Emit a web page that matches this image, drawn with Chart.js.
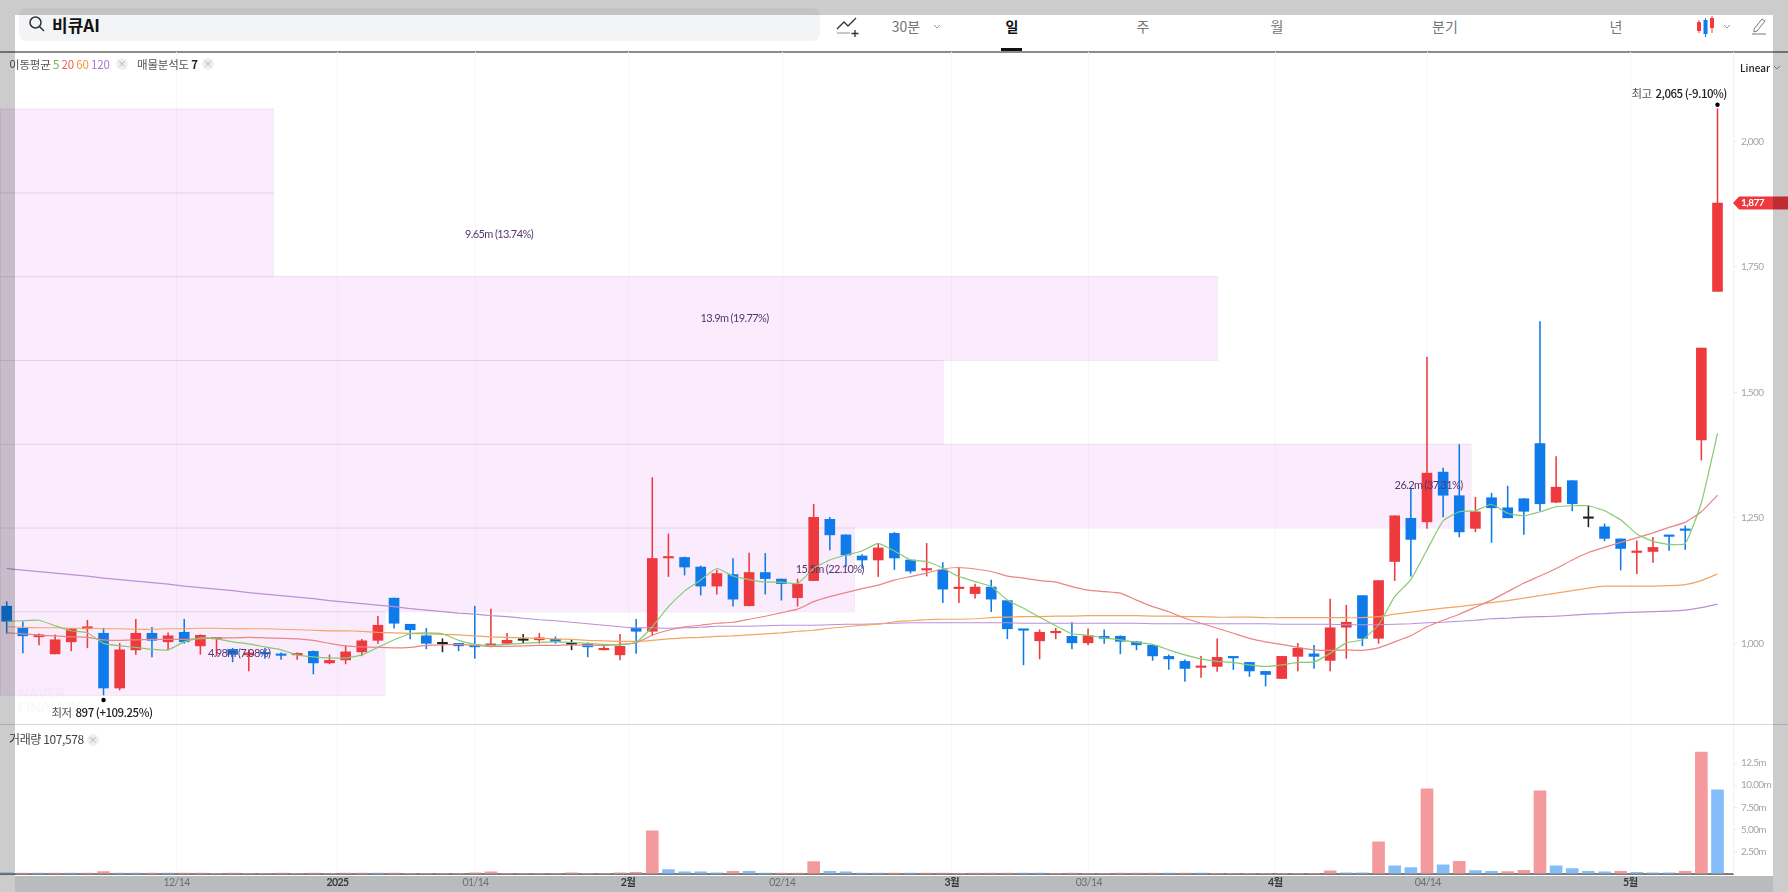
<!DOCTYPE html>
<html>
<head>
  <meta charset="utf-8">
  <script src="https://cdn.jsdelivr.net/npm/chart.js@4/dist/chart.umd.min.js"></script>
  <style>
    * { margin: 0; padding: 0; box-sizing: border-box; }
    html, body { width: 1788px; height: 892px; overflow: hidden; background: #fff; }
    body { position: relative; font-family: 'Noto Sans CJK KR', 'Noto Sans', sans-serif; color: #333; }
    canvas { position: absolute; left: 0; }
    #priceChart { top: 52px; }
    #volumeChart { top: 725px; }
    .abs { position: absolute; white-space: nowrap; }
    .tab { top: 16px; font-size: 14px; line-height: 20px; color: #777; transform: translateX(-50%); }
    .searchbox { left: 19px; top: 8px; width: 801px; height: 33px; background: #f2f4f6; border-radius: 8px; }
    .legend { font-size: 11.5px; line-height: 16px; letter-spacing: -0.2px; color: #555; }
    .closex { width: 12px; height: 12px; border-radius: 50%; background: #efefef; color: #aaa; font-size: 9px; line-height: 12px; text-align: center; }
    .dim { position: absolute; background: rgba(0, 0, 0, 0.2); z-index: 10; }
    .watermark { left: 18px; font-size: 14px; line-height: 14px; font-weight: 700; color: #f9f9f9; font-family: Lato, sans-serif; }
  </style>
</head>
<body>
  <div class="abs searchbox"></div>
  <svg class="abs" style="left:28px;top:15px" width="18" height="18" viewBox="0 0 18 18" fill="none" stroke="#333" stroke-width="1.5"><circle cx="7.5" cy="7.5" r="5.5"/><path d="M11.5 11.5L16 16"/></svg>
  <div class="abs" style="left:52px;top:12px;font-size:17px;line-height:26px;font-weight:700;color:#111">비큐AI</div>

  <svg class="abs" style="left:836px;top:16px" width="24" height="22" viewBox="0 0 24 22" fill="none" stroke="#333" stroke-width="1.3"><path d="M1 13L8 6L12 10L20 2"/><path d="M1 17H14" stroke="#aaa"/><path d="M19 14V21M15.5 17.5H22.5"/></svg>
  <div class="abs tab" style="left:906px">30분</div>
  <svg class="abs" style="left:933px;top:24px" width="8" height="6" viewBox="0 0 8 6" fill="none" stroke="#999"><path d="M1 1L4 4L7 1"/></svg>
  <div class="abs tab" style="left:1012px;color:#111;font-weight:700">일</div>
  <div class="abs" style="left:1001px;top:48px;width:21px;height:3px;background:#111"></div>
  <div class="abs tab" style="left:1143px">주</div>
  <div class="abs tab" style="left:1277px">월</div>
  <div class="abs tab" style="left:1445px">분기</div>
  <div class="abs tab" style="left:1616px">년</div>
  <svg class="abs" style="left:1695px;top:15px" width="22" height="22" viewBox="0 0 22 22"><path d="M4 5V18M17 1V18" stroke="#ef3a3e"/><rect x="2" y="7" width="4" height="9" fill="#ef3a3e"/><rect x="15" y="3" width="4" height="10" fill="#ef3a3e"/><path d="M10.500 3V22" stroke="#0f7bea"/><rect x="8.500" y="5" width="4" height="14" fill="#0f7bea"/></svg>
  <svg class="abs" style="left:1723px;top:24px" width="8" height="6" viewBox="0 0 8 6" fill="none" stroke="#999"><path d="M1 1L4 4L7 1"/></svg>
  <svg class="abs" style="left:1750px;top:17px" width="18" height="18" viewBox="0 0 18 18" fill="none" stroke="#777"><path d="M4 12L12 2L15 4L7 14L4 15Z"/><path d="M2 17H16"/></svg>

  <div class="abs" style="left:0;top:51px;width:1788px;height:2px;background:#8c8c8c"></div>
  <div class="abs" style="left:0;top:724px;width:1788px;height:1px;background:#d6d6e2"></div>

  <div class="abs watermark" style="top:686px">NAVER</div>
  <div class="abs watermark" style="top:700px">FINANCIAL</div>

  <div class="abs" style="left:15px;top:876px;width:1758px;height:16px;background:#e7ebef"></div>

  <canvas id="priceChart" width="1788" height="672"></canvas>
  <canvas id="volumeChart" width="1788" height="167"></canvas>

  <div class="abs legend" style="left:9px;top:56px">이동평균 <span style="color:#63b54f">5</span> <span style="color:#e8605a">20</span> <span style="color:#f0973f">60</span> <span style="color:#a774cf">120</span></div>
  <div class="abs closex" style="left:116px;top:58px">×</div>
  <div class="abs legend" style="left:137px;top:56px">매물분석도 <b style="color:#222">7</b></div>
  <div class="abs closex" style="left:202px;top:58px">×</div>
  <div class="abs legend" style="left:9px;top:731px;font-size:12px;letter-spacing:-0.4px;color:#444">거래량 107,578</div>
  <div class="abs closex" style="left:87px;top:734px">×</div>
  <div class="abs" style="left:1740px;top:60px;font-size:10px;line-height:16px;font-weight:500;color:#222">Linear</div>
  <svg class="abs" style="left:1773px;top:65px" width="8" height="6" viewBox="0 0 8 6" fill="none" stroke="#999"><path d="M1 1L4 4L7 1"/></svg>

  <div class="dim" style="left:0;top:0;width:15px;height:892px"></div>
  <div class="dim" style="left:1773px;top:0;width:15px;height:892px"></div>
  <div class="dim" style="left:15px;top:0;width:1758px;height:15px"></div>
  <div class="dim" style="left:15px;top:876px;width:1758px;height:16px"></div>

  <script>
    Chart.defaults.animation = false;

    const opens = [1074,1030,1013,979,1003,1029,1020,911,987,1020,1003,1022,995,1009,988,977,980,977,977,984,961,967,983,1006,1090,1038,1015,999,
      1000,994,994,1000,1006,1007,1008,998,998,987,977,1030,1024,1170,1171,1152,1114,1137,1075,1141,1128,1091,1125,1247,1216,1174,1166,1219,
      1166,1146,1146,1109,1099,1112,1085,1027,1005,1021,1014,1001,1014,1014,1003,996,974,964,952,954,972,962,944,930,974,979,966,1032,
      1095,1010,1163,1249,1242,1341,1294,1229,1290,1270,1288,1398,1281,1324,1249,1232,1208,1181,1183,1214,1226,1405,1701];
    const highs = [1083,1043,1019,1017,1030,1046,1030,1000,1048,1032,1021,1048,1017,1011,990,987,990,981,981,985,977,995,1008,1054,1090,1038,1030,1009,
      1000,1074,1068,1020,1018,1020,1013,1008,1001,998,1018,1048,1330,1218,1172,1154,1146,1169,1180,1179,1128,1128,1277,1251,1216,1177,1199,1221,
      1166,1199,1161,1151,1118,1126,1086,1027,1027,1030,1042,1029,1027,1015,1004,997,977,967,974,1009,972,962,944,974,1000,996,1088,1076,
      1095,1125,1254,1309,1570,1349,1396,1291,1299,1313,1289,1641,1372,1324,1274,1238,1208,1204,1211,1214,1234,1588,2065];
    const lows = [1020,981,997,979,985,991,897,907,978,973,987,1000,978,975,963,945,970,968,968,939,959,959,975,1000,1030,1009,989,983,
      985,970,993,1000,1000,1000,1000,987,973,987,967,980,1016,1133,1136,1096,1098,1074,1074,1098,1086,1074,1125,1186,1153,1149,1133,1147,
      1140,1134,1081,1081,1090,1063,1009,957,969,1009,989,997,1000,979,987,966,948,924,932,944,948,934,915,930,945,950,945,970,
      995,1000,1125,1134,1229,1252,1212,1222,1201,1250,1217,1264,1280,1264,1232,1204,1146,1139,1161,1185,1187,1365,1701];
    const closes = [1044,1015,1017,1007,1029,1033,911,987,1020,1006,1015,1003,1016,1010,978,981,979,976,979,961,966,983,1005,1036,1040,1027,1000,999,
      995,993,999,1006,1006,1011,1004,998,993,988,994,1024,1169,1171,1152,1114,1139,1088,1141,1129,1119,1118,1251,1216,1176,1166,1190,1170,
      1144,1147,1108,1110,1112,1088,1029,1026,1022,1024,1001,1015,1010,1004,997,975,969,950,953,972,971,945,938,974,990,974,1031,1042,
      1010,1125,1254,1207,1339,1295,1222,1262,1270,1250,1263,1278,1311,1278,1249,1209,1189,1182,1191,1213,1225,1588,1877];

    const ma5 = [1044,1045,1046,1035,1025,1021,1000,995,992,988,987,1003,1011,1009,1003,999,993,987,977,973,971,971,977,992,1007,1019,1021,1019,
      1006,998,996,998,1000,1002,1003,1002,1000,998,997,1002,1033,1073,1104,1126,1149,1134,1127,1122,1122,1119,1149,1166,1176,1184,1199,1184,
      1166,1163,1150,1133,1123,1113,1086,1070,1052,1035,1019,1016,1011,1007,1002,998,987,977,969,964,962,957,954,957,962,963,980,1001,
      1007,1037,1093,1127,1186,1244,1262,1264,1277,1259,1254,1262,1272,1274,1274,1264,1246,1218,1203,1197,1199,1280,1418];
    const ma20 = [1021,1019,1016,1015,1013,1012,1007,1006,1007,1008,1008,1008,1009,1011,1011,1012,1011,1010,1009,1006,1000,995,993,992,991,992,996,997,
      998,996,994,994,995,996,996,997,996,996,998,1001,1016,1026,1033,1036,1040,1042,1048,1054,1061,1068,1083,1093,1101,1109,1116,1126,
      1133,1140,1148,1151,1148,1143,1134,1130,1125,1122,1113,1106,1103,1100,1086,1073,1063,1050,1040,1030,1020,1010,1003,998,992,987,986,987,
      986,991,1003,1015,1033,1046,1058,1072,1086,1103,1120,1134,1149,1166,1181,1191,1201,1210,1220,1231,1241,1262,1295];
    const ma60 = [1033,1032,1031,1031,1030,1030,1029,1029,1028,1028,1029,1029,1030,1030,1029,1029,1029,1028,1027,1026,1025,1025,1024,1022,1021,1020,1019,1018,
      1017,1015,1013,1012,1011,1010,1009,1008,1006,1005,1004,1004,1006,1009,1011,1012,1014,1015,1017,1019,1021,1024,1026,1030,1033,1036,1038,1043,
      1045,1047,1048,1048,1049,1051,1052,1053,1053,1054,1054,1055,1055,1055,1055,1054,1054,1053,1053,1052,1052,1052,1051,1051,1051,1051,1051,1051,
      1051,1053,1058,1062,1066,1070,1073,1077,1081,1085,1090,1095,1100,1105,1110,1114,1114,1114,1114,1115,1117,1125,1138];
    const ma120 = [1149,1146,1143,1140,1137,1134,1130,1127,1124,1121,1118,1114,1111,1108,1105,1101,1098,1095,1092,1089,1085,1082,1079,1076,1073,1069,1066,1063,
      1060,1058,1055,1053,1050,1047,1045,1042,1039,1036,1033,1031,1031,1030,1031,1032,1034,1034,1034,1035,1036,1036,1036,1037,1038,1038,1039,1040,
      1041,1041,1041,1041,1041,1041,1041,1040,1040,1040,1040,1040,1040,1040,1040,1039,1039,1039,1039,1039,1039,1039,1039,1038,1038,1038,1038,1037,
      1037,1037,1038,1039,1041,1042,1044,1046,1049,1050,1052,1053,1054,1056,1058,1059,1061,1062,1063,1064,1066,1071,1078];

    // volume in millions, volumeUp 1 = red bar, 0 = blue bar
    const volumes = [.08,.07,.07,.07,.07,.07,.22,.07,.07,.07,.07,.07,.07,.02,.07,.02,.02,.07,.02,.07,.02,.07,.07,.07,.07,.02,.02,.02,
      .02,.08,.2,.02,.02,.02,.02,.08,.02,.02,.08,.15,4.85,.45,.2,.2,.08,.25,.25,.07,.07,.07,1.35,.27,.2,.07,.07,.07,
      .07,.07,.07,.02,.07,.07,.07,.07,.07,.02,.07,.02,.02,.07,.07,.07,.07,.07,.07,.02,.02,.02,.02,.02,.02,.02,.3,.1,
      .08,3.6,.87,.68,9.6,.98,1.4,.34,.27,.23,.38,9.36,.87,.57,.27,.19,.27,.15,.08,.08,.27,13.76,9.48];
    const volumeUp = [0,1,0,1,0,1,1,0,0,1,0,1,1,1,1,1,1,1,1,1,1,1,1,0,1,1,1,1,
      1,1,1,1,1,1,1,1,1,1,1,1,1,0,0,0,0,1,0,0,1,1,1,0,0,0,0,1,
      0,1,1,1,1,1,1,0,0,1,1,1,1,1,1,1,0,1,0,1,1,1,1,1,1,1,1,0,
      0,1,0,0,1,0,1,0,0,1,1,1,0,0,0,0,1,0,0,0,1,1,0];

    const priceTicks = [1000, 1250, 1500, 1750, 2000];
    const volumeTicks = [2.5, 5, 7.5, 10, 12.5];
    const volumeTickLabels = ['2.50m', '5.00m', '7.50m', '10.00m', '12.5m'];
    const dateTicks = [10.53, 20.5, 29.05, 38.5, 48.05, 58.55, 67.05, 78.6, 88.05, 100.6];
    const dateLabels = ['12/14', '2025', '01/14', '2월', '02/14', '3월', '03/14', '4월', '04/14', '5월'];
    const dateBold = [0, 1, 0, 1, 0, 1, 0, 1, 0, 1];

    // 매물분석도 bands, top to bottom
    const bandTops = [2065, 1898.1, 1731.3, 1564.4, 1397.6, 1230.7, 1063.9];
    const bandBottoms = [1898.1, 1731.3, 1564.4, 1397.6, 1230.7, 1063.9, 897];
    const bandEnds = [16.5, 16.5, 75, 58, 90.7, 52.5, 23.4];
    const bandLabels = ['', '9.65m (13.74%)', '13.9m (19.77%)', '', '26.2m (37.31%)', '15.5m (22.10%)', '4.98m (7.08%)'];
    const bandLabelX = [0, 30.5, 45.1, 0, 88.1, 51, 14.4];

    const RED = '#ee3a3e', BLUE = '#0f7bea', DOJI = '#222';
    const indexes = opens.map((v, i) => i);
    const axisFont = { family: "Lato, 'Noto Sans CJK KR'", size: 10 };
    const xMin = -0.415, xMax = 106.96;

    function candleColor(i) {
      if (closes[i] > opens[i]) return RED;
      if (closes[i] < opens[i]) return BLUE;
      return DOJI;
    }
    function line(data, color) {
      return { type: 'line', data: indexes.map(i => ({ x: i, y: data[i] })), borderColor: color, borderWidth: 1.2, pointRadius: 0, tension: 0.15, order: 1 };
    }

    // tighter axis text
    const tightText = {
      id: 'tightText',
      beforeDraw(chart) { chart.ctx.letterSpacing = '-0.6px'; }
    };

    const annotations = {
      id: 'annotations',
      beforeDatasetsDraw(chart) {
        const { ctx, scales: { x, y }, chartArea } = chart;
        ctx.save();
        bandTops.forEach((top, i) => {
          const y0 = y.getPixelForValue(top), y1 = y.getPixelForValue(bandBottoms[i]);
          const x1 = x.getPixelForValue(bandEnds[i]);
          ctx.fillStyle = 'rgba(232,170,248,0.22)';
          ctx.fillRect(chartArea.left, y0, x1 - chartArea.left, y1 - y0);
          ctx.strokeStyle = 'rgba(200,160,220,0.22)';
          ctx.strokeRect(chartArea.left + 0.5, y0 + 0.5, x1 - chartArea.left, y1 - y0);
        });
        ctx.restore();
      },
      afterDatasetsDraw(chart) {
        const { ctx, scales: { x, y } } = chart;
        ctx.save();
        ctx.textBaseline = 'middle';

        ctx.font = "11px Lato, 'Noto Sans'";
        ctx.letterSpacing = '-0.6px';
        ctx.textAlign = 'center';
        ctx.fillStyle = '#56356f';
        bandLabels.forEach((label, i) => {
          if (!label) return;
          ctx.fillText(label, x.getPixelForValue(bandLabelX[i]), y.getPixelForValue((bandTops[i] + bandBottoms[i]) / 2));
        });

        // high and low marks
        const hi = highs.indexOf(Math.max(...highs)), lo = lows.indexOf(Math.min(...lows));
        const hx = x.getPixelForValue(hi), hy = y.getPixelForValue(highs[hi]);
        const lx = x.getPixelForValue(lo), ly = y.getPixelForValue(lows[lo]);
        ctx.fillStyle = '#000';
        ctx.beginPath(); ctx.arc(hx, hy - 4, 2.2, 0, Math.PI * 2); ctx.fill();
        ctx.beginPath(); ctx.arc(lx, ly + 5, 2.2, 0, Math.PI * 2); ctx.fill();

        ctx.letterSpacing = '-0.5px';
        ctx.textAlign = 'left';
        ctx.font = "11.5px 'Noto Sans CJK KR'";
        ctx.fillStyle = '#555';
        ctx.fillText('최고', hx - 86, hy - 15);
        ctx.fillText('최저', lx - 52, ly + 18);
        ctx.font = "500 11.5px 'Noto Sans CJK KR'";
        ctx.fillStyle = '#222';
        ctx.fillText('2,065 (-9.10%)', hx - 62, hy - 15);
        ctx.fillText('897 (+109.25%)', lx - 28, ly + 18);

        // last price tag
        const last = closes[closes.length - 1];
        const ty = y.getPixelForValue(last);
        ctx.fillStyle = RED;
        ctx.beginPath();
        ctx.moveTo(1733, ty);
        ctx.lineTo(1739, ty - 6.5);
        ctx.lineTo(1788, ty - 6.5);
        ctx.lineTo(1788, ty + 6.5);
        ctx.lineTo(1739, ty + 6.5);
        ctx.closePath();
        ctx.fill();
        ctx.fillStyle = '#fff';
        ctx.letterSpacing = '-0.5px';
        ctx.font = "700 10px Lato, 'Noto Sans'";
        ctx.fillText(last.toLocaleString('en-US'), 1741, ty);
        ctx.restore();
      }
    };

    new Chart(document.getElementById('priceChart'), {
      data: {
        datasets: [
          line(ma5, '#86c972'),
          line(ma20, '#ea8583'),
          line(ma60, '#f3a562'),
          line(ma120, '#ba90d8'),
          {
            type: 'bar',
            data: indexes.map(i => ({ x: i, y: [Math.min(opens[i], closes[i]), Math.max(opens[i], closes[i])] })),
            backgroundColor: indexes.map(candleColor),
            barThickness: 10,
            minBarLength: 1.5,
            grouped: false,
            order: 2
          },
          {
            type: 'bar',
            data: indexes.map(i => ({ x: i, y: [lows[i], highs[i]] })),
            backgroundColor: indexes.map(candleColor),
            barThickness: 0.9,
            grouped: false,
            order: 3
          }
        ]
      },
      options: {
        responsive: false,
        devicePixelRatio: 1,
        layout: { padding: 0 },
        plugins: { legend: { display: false }, tooltip: { enabled: false } },
        scales: {
          x: {
            type: 'linear',
            offset: false,
            min: xMin,
            max: xMax,
            afterBuildTicks(scale) { scale.ticks = dateTicks.map(v => ({ value: v })); },
            ticks: { display: false },
            grid: { color: '#f5f6f7', drawTicks: false, offset: false },
            border: { display: false }
          },
          y: {
            position: 'right',
            min: 839.3,
            max: 2177.9,
            afterBuildTicks(scale) { scale.ticks = priceTicks.map(v => ({ value: v })); },
            afterFit(scale) { scale.width = 55; scale.paddingTop = 0; scale.paddingBottom = 0; },
            ticks: { callback: v => v.toLocaleString('en-US'), color: '#a0a4aa', font: axisFont, padding: 4, autoSkip: false },
            grid: { drawOnChartArea: false, tickLength: 4, color: '#eceded' },
            border: { color: '#f0f1f2' }
          }
        }
      },
      plugins: [tightText, annotations]
    });

    new Chart(document.getElementById('volumeChart'), {
      type: 'bar',
      data: {
        datasets: [{
          data: indexes.map(i => ({ x: i, y: volumes[i] })),
          backgroundColor: indexes.map(i => volumeUp[i] ? '#f59a9c' : '#85bdfa'),
          barThickness: 12
        }]
      },
      options: {
        responsive: false,
        devicePixelRatio: 1,
        layout: { padding: 0 },
        plugins: { legend: { display: false }, tooltip: { enabled: false } },
        scales: {
          x: {
            type: 'linear',
            offset: false,
            min: xMin,
            max: xMax,
            afterBuildTicks(scale) { scale.ticks = dateTicks.map(v => ({ value: v })); },
            afterFit(scale) { scale.height = 18.4; scale.paddingLeft = 0; scale.paddingRight = 0; },
            ticks: {
              callback: (v, i) => dateLabels[i],
              autoSkip: false,
              maxRotation: 0,
              padding: 3,
              color: ctx => dateBold[ctx.index] ? '#44474b' : '#868a90',
              font: ctx => ({ family: axisFont.family, size: 10.5, weight: dateBold[ctx.index] ? '700' : '400' })
            },
            grid: { color: '#f5f6f7', drawTicks: false, offset: false },
            border: { color: '#7c7c7c', width: 2 }
          },
          y: {
            position: 'right',
            min: 0,
            max: 16.81,
            afterBuildTicks(scale) { scale.ticks = volumeTicks.map(v => ({ value: v })); },
            afterFit(scale) { scale.width = 55; scale.paddingTop = 0; scale.paddingBottom = 0; },
            ticks: { callback: (v, i) => volumeTickLabels[i], color: '#a0a4aa', font: axisFont, padding: 4, autoSkip: false },
            grid: { drawOnChartArea: false, tickLength: 4, color: '#eceded' },
            border: { color: '#f0f1f2' }
          }
        }
      },
      plugins: [tightText]
    });
  </script>
</body>
</html>
